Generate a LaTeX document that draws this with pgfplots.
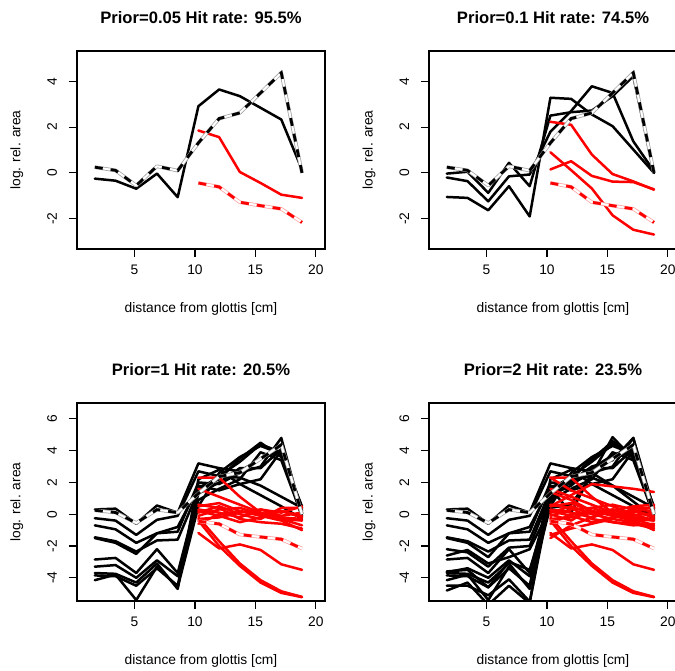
\documentclass[border=0pt]{standalone}
\usepackage{fontspec}
\setmainfont{Liberation Sans}
\usepackage{pgfplots}
\usepackage{pgfplotstable}
\pgfplotsset{compat=1.18}

% distance positions (cm)
\pgfplotstableread{
x      ref    b1
1.714  0.25  -0.25
3.429  0.11  -0.34
5.143 -0.55  -0.69
6.857  0.29  -0.03
8.571  0.10  -1.06
10.286 1.31   2.91
12.000 2.37   3.64
13.714 2.62   3.35
15.429 3.49   2.84
17.143 4.37   2.33
18.857 0.00   0.14
}\blackA
\pgfplotstableread{
x      ref    r1
10.286 -0.44  1.85
12.000 -0.61  1.56
13.714 -1.28  0.04
15.429 -1.43 -0.44
17.143 -1.57 -0.95
18.857 -2.16 -1.09
}\redA

\pgfplotstableread{
x      ref    b1     b2     b3
1.714  0.25  -1.05  -0.20  -0.03
3.429  0.11  -1.09  -0.36   0.05
5.143 -0.55  -1.63  -1.24  -0.87
6.857  0.29  -0.58  -0.15   0.44
8.571  0.10  -1.90  -0.07  -0.58
10.286 1.31   3.28   1.80   2.50
12.000 2.37   3.23   2.70   2.65
13.714 2.62   2.55   3.78   2.72
15.429 3.49   2.04   3.49   3.35
17.143 4.37   1.02   1.38   4.22
18.857 0.00   0.00   0.07   0.00
}\blackB
\pgfplotstableread{
x      ref    r1     r2     r3
10.286 -0.44  2.23   0.15   0.90
12.000 -0.61  2.10   0.51   0.12
13.714 -1.28  0.80  -0.13  -0.68
15.429 -1.43 -0.05  -0.38  -1.85
17.143 -1.57 -0.37  -0.40  -2.48
18.857 -2.16 -0.73  -0.72  -2.69
}\redB

\pgfplotstableread{
x      ref    b1     b2     b3     b4     b5     b6     b7     b8     b9     b10
1.714  0.25   0.30  -0.25  -0.70  -1.45  -1.50  -2.85  -3.30  -3.70  -3.85  -4.15
3.429  0.11   0.35  -0.40  -0.95  -1.70  -1.80  -2.75  -3.20  -3.75  -3.90  -3.80
5.143 -0.55  -0.60  -1.30  -1.80  -2.35  -2.50  -3.70  -4.00  -4.30  -4.50  -5.40
6.857  0.29   0.55  -0.35  -1.20  -1.65  -1.20  -2.20  -2.90  -3.10  -3.40  -3.30
8.571  0.10   0.10  -0.10  -0.80  -1.60  -1.10  -3.70  -3.90  -4.70  -4.50  -4.60
10.286 1.31   3.20   2.70   1.70   1.50   2.00   1.30   0.90   2.20   1.80   0.50
12.000 2.37   2.90   2.40   2.20   2.40   1.90   2.00   1.60   2.80   1.50   2.60
13.714 2.62   2.70   2.30   3.50   3.30   2.60   2.90   2.20   1.90   1.90   3.60
15.429 3.49   3.50   1.80   4.50   4.40   3.00   2.90   3.90   1.20   2.20   4.30
17.143 4.37   4.00   1.10   3.60   3.90   4.80   4.10   3.40   0.50   4.00   3.80
18.857 0.00   0.10   0.40   0.30  -0.20   0.00   0.20  -0.10  -0.30   0.40   0.50
}\blackC
\pgfplotstableread{
x      ref    r1     r2     r3     r4     r5     r6     r7     r8     r9     r10    r11    r12    r13
10.286 -0.44  2.30   1.60   0.50   0.30   0.10  -0.10  -0.30   0.60  -0.60   0.20  -1.18  -0.20  -0.40
12.000 -0.61  2.30   1.10   0.70   0.10   0.50   0.30  -0.20   0.40   0.00  -0.10  -2.15  -1.70  -2.00
13.714 -1.28  1.10   0.60   0.20  -0.20   0.00   0.40   0.10  -0.30   0.20  -0.50  -1.90  -3.10  -3.25
15.429 -1.43  0.10   0.10  -0.10   0.30  -0.30   0.00   0.30  -0.50   0.00  -0.20  -2.25  -4.15  -4.30
17.143 -1.57 -0.20  -0.30  -0.40   0.10   0.40   0.20  -0.10  -0.60  -0.30   0.20  -3.15  -4.85  -4.95
18.857 -2.16 -0.30  -0.70  -1.00   0.50   0.40  -0.20   0.10  -0.90  -0.40  -0.10  -3.50  -5.20  -5.22
}\redC

\pgfplotstableread{
x      ref    b1     b2     b3     b4     b5     b6     b7     b8     b9     b10    b11    b12    b13    b14    b15
1.714  0.25   0.30  -0.25  -0.70  -1.45  -1.50  -2.85  -3.65  -3.70  -3.85  -4.15  -2.60  -4.50  -4.80  -3.60  -2.20
3.429  0.11   0.35  -0.40  -0.95  -1.70  -1.80  -2.75  -3.40  -3.75  -3.90  -3.80  -2.25  -4.50  -4.30  -3.50  -2.40
5.143 -0.55  -0.60  -1.30  -1.80  -2.35  -2.70  -3.70  -4.00  -4.30  -4.60  -5.40  -3.10  -5.10  -5.70  -4.60  -3.30
6.857  0.29   0.55  -0.35  -1.20  -1.65  -1.20  -2.20  -2.90  -3.10  -3.40  -3.30  -2.70  -4.10  -4.50  -3.00  -2.10
8.571  0.10   0.10  -0.10  -0.80  -1.60  -1.10  -3.70  -3.90  -4.70  -4.50  -4.60  -2.20  -5.50  -5.60  -3.50  -2.00
10.286 1.31   3.20   2.70   1.70   1.50   2.00   1.30   0.90   2.20   1.80   0.50   0.40   1.00   1.60   0.80   1.20
12.000 2.37   2.90   2.40   2.20   2.40   1.90   2.00   1.60   2.80   1.50   2.60   0.60   2.10   0.10   2.30   1.80
13.714 2.62   2.70   2.30   3.50   3.30   2.60   2.90   2.20   1.90   1.90   3.60   2.50   3.00   2.60   3.40   2.90
15.429 3.49   3.50   1.80   4.50   4.40   3.00   2.90   3.90   1.20   2.20   4.30   4.85   3.40   1.80   4.60   3.70
17.143 4.37   4.00   1.10   3.60   3.90   4.80   4.10   3.40   0.50   4.00   3.80   3.50   4.80   0.80   3.70   4.20
18.857 0.00   0.10   0.40   0.30  -0.20   0.00   0.20  -0.10  -0.30   0.40   0.50   0.10   0.30  -0.20   0.00  -0.30
}\blackD
\pgfplotstableread{
x      ref    r1     r2     r3     r4     r5     r6     r7     r8     r9     r10    r11    r12    r13    r14    r15    r16    r17    r18    r19
10.286 -0.44  2.30   1.60   0.50   0.30   0.10  -0.10  -0.30   0.60  -0.60   0.20  -1.18  -0.20  -0.40   0.50  -1.50   1.40   0.00  -1.30   2.30
12.000 -0.61  2.30   1.10   0.70   0.10   0.50   0.30  -0.20   0.40   0.00  -0.10  -2.15  -1.70  -2.00   1.20  -0.70   0.90  -0.40  -0.90   1.50
13.714 -1.28  1.10   0.60   0.20  -0.20   0.00   0.40   0.10  -0.30   0.20  -0.50  -1.90  -3.10  -3.25   1.90  -0.20   0.20   0.40  -0.60   1.00
15.429 -1.43  0.10   0.10  -0.10   0.30  -0.30   0.00   0.30  -0.50   0.00  -0.20  -2.25  -4.15  -4.30   1.75   0.20  -0.50   0.60  -0.30   0.50
17.143 -1.57 -0.20  -0.30  -0.40   0.10   0.40   0.20  -0.10  -0.60  -0.30   0.20  -3.15  -4.85  -4.95   1.60   0.50  -0.70   0.30  -0.50   0.00
18.857 -2.16 -0.30  -0.70  -1.00   0.50   0.40  -0.20   0.10  -0.90  -0.40  -0.10  -3.50  -5.20  -5.22   1.40   0.60  -0.60   0.20  -0.80  -0.40
}\redD

\pgfplotsset{
  rpanel/.style={
    scale only axis, width=248pt, height=198pt,
    anchor=south west,
    xmin=0.24, xmax=20.76, xtick={5,10,15,20},
    axis line style={line width=1.1pt},
    tick align=outside, major tick length=8pt, tick pos=left,
    tick style={line width=1.1pt, black},
    /pgf/number format/assume math mode=true,
    xticklabel style={font=\fontsize{13.8}{16}\selectfont, anchor=base, yshift=-18pt},
    yticklabel style={font=\fontsize{13.8}{16}\selectfont, rotate=90, anchor=base, yshift=12pt},
    xlabel={distance from glottis [cm]},
    ylabel={log. rel. area},
    every axis x label/.style={at={(axis description cs:0.5,0)}, anchor=base, yshift=-64pt,
      font=\fontsize{13.8}{16}\selectfont},
    every axis y label/.style={at={(axis description cs:0,0.5)}, rotate=90, anchor=base, yshift=56.5pt,
      font=\fontsize{13.8}{16}\selectfont},
    every axis title/.style={at={(axis description cs:0.5,1)}, anchor=base, yshift=27.5pt,
      font=\bfseries\fontsize{16.6}{19}\selectfont},
  },
  toprow/.style={ymin=-3.32, ymax=5.32, ytick={-2,0,2,4}},
  botrow/.style={ymin=-5.46, ymax=7.0, ytick={-4,-2,0,2,4,6}},
  blk/.style={black, line width=2.5pt, no markers, line join=round, line cap=round},
  rd/.style={red, line width=2.5pt, no markers, line join=round, line cap=round},
}

% reference profile: outlined white line with dashes on top
\newcommand{\refline}[3]{%
  \addplot[#2, line width=3.6pt, no markers, line join=round] table[x=x,y=ref]{#1};
  \addplot[white, line width=2.0pt, no markers, line join=round] table[x=x,y=ref]{#1};
  \addplot[#3, line width=2.8pt, no markers, line cap=butt, dash pattern=on 8pt off 8pt] table[x=x,y=ref]{#1};
}

\begin{document}
\begin{tikzpicture}[x=1pt,y=1pt]
\useasboundingbox (0,0) rectangle (675,671);
\clip (0,0) rectangle (675,671);

\begin{axis}[rpanel, toprow, at={(77pt,422pt)}, title={Prior=0.05 Hit rate: 95.5\%}]
  \addplot[blk] table[x=x,y=b1]{\blackA};
  \addplot[rd] table[x=x,y=r1]{\redA};
  \refline{\redA}{red!35}{red}
  \refline{\blackA}{gray!70}{black}
\end{axis}

\begin{axis}[rpanel, toprow, at={(429pt,422pt)}, title={Prior=0.1 Hit rate: 74.5\%}]
  \pgfplotsinvokeforeach{1,2,3}{\addplot[blk] table[x=x,y=b#1]{\blackB};}
  \pgfplotsinvokeforeach{1,2,3}{\addplot[rd] table[x=x,y=r#1]{\redB};}
  \refline{\redB}{red!35}{red}
  \refline{\blackB}{gray!70}{black}
\end{axis}

\begin{axis}[rpanel, botrow, at={(77pt,70pt)}, title={Prior=1 Hit rate: 20.5\%}]
  \pgfplotsinvokeforeach{1,...,10}{\addplot[blk] table[x=x,y=b#1]{\blackC};}
  \pgfplotsinvokeforeach{1,...,13}{\addplot[rd] table[x=x,y=r#1]{\redC};}
  \refline{\redC}{red!35}{red}
  \refline{\blackC}{gray!70}{black}
\end{axis}

\begin{axis}[rpanel, botrow, at={(429pt,70pt)}, title={Prior=2 Hit rate: 23.5\%}]
  \pgfplotsinvokeforeach{1,...,15}{\addplot[blk] table[x=x,y=b#1]{\blackD};}
  \pgfplotsinvokeforeach{1,...,19}{\addplot[rd] table[x=x,y=r#1]{\redD};}
  \refline{\redD}{red!35}{red}
  \refline{\blackD}{gray!70}{black}
\end{axis}
\end{tikzpicture}
\end{document}
